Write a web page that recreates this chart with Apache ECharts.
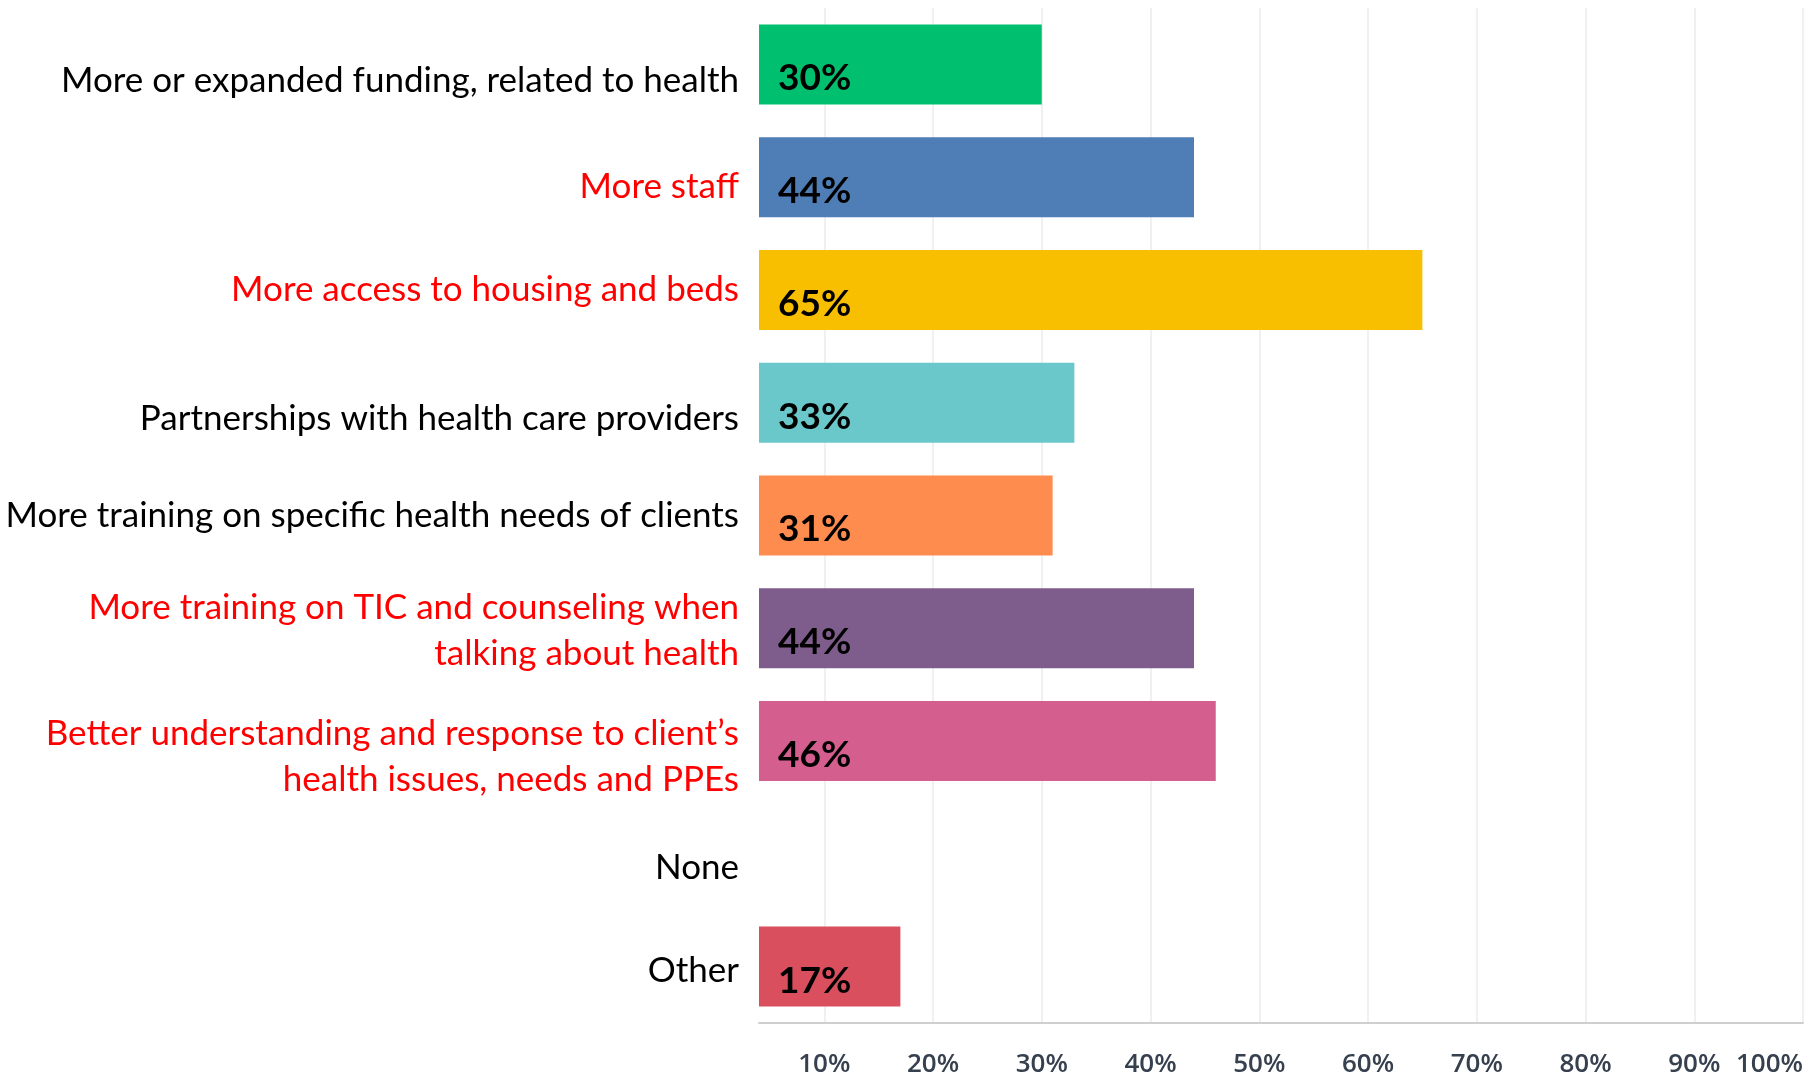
<!DOCTYPE html>
<html>
<head>
<meta charset="utf-8">
<script src="https://cdn.jsdelivr.net/npm/echarts@6/dist/echarts.min.js"></script>
<style>
  html, body { margin: 0; padding: 0; background: #ffffff; }
  #chart { width: 1820px; height: 1078px; }
</style>
</head>
<body>
<div id="chart"></div>
<script>
// ---- data ----
var categories = [
  'More or expanded funding, related to health',
  'More staff',
  'More access to housing and beds',
  'Partnerships with health care providers',
  'More training on specific health needs of clients',
  'More training on TIC and counseling when\ntalking about health',
  'Better understanding and response to client\u2019s\nhealth issues, needs and PPEs',
  'None',
  'Other'
];
var values = [30, 44, 65, 33, 31, 44, 46, 0, 17];
var highlighted = [false, true, true, false, false, true, true, false, false];
var xTickLabels = ['10%', '20%', '30%', '40%', '50%', '60%', '70%', '80%', '90%', '100%'];

// ---- styles ----
var barColors = ['#00BF6F', '#4F7DB5', '#F8BF00', '#6AC7CA', '#FF8C4F', '#7E5C8C', '#D45E8E', '#DA4F5E', '#DA4F5E'];
var labelShift = [16, 10, 0, 16, 0, 2, 16, 14, 4];

var LABEL_FONT = 'Lato';
var LABEL_SIZE = 35;
var LABEL_LH = 46;

var rich = {
  k: { color: '#000000', fontFamily: LABEL_FONT, fontSize: LABEL_SIZE, lineHeight: LABEL_LH },
  rd: { color: '#FF0000', fontFamily: LABEL_FONT, fontSize: LABEL_SIZE, lineHeight: LABEL_LH }
};
labelShift.forEach(function (s) {
  if (s > 0) {
    rich['sp' + s] = { fontSize: 1, lineHeight: s * 2, height: s * 2 };
  }
});

var chart = echarts.init(document.getElementById('chart'));

var option = {
  backgroundColor: '#ffffff',
  animation: false,
  grid: { left: 759, right: 17, top: 8, bottom: 53, containLabel: false },
  xAxis: {
    type: 'value',
    min: 4,
    max: 100,
    splitNumber: 10,
    axisLine: { show: true, lineStyle: { color: '#CFCFCF', width: 2 } },
    axisTick: { show: false },
    splitLine: { show: true, showMinLine: false, lineStyle: { color: '#EBEBEB', width: 1.5 } },
    axisLabel: {
      showMinLabel: false,
      alignMaxLabel: 'right',
      margin: 29,
      fontFamily: 'Open Sans',
      fontWeight: 600,
      fontSize: 26,
      color: '#36404E',
      formatter: function (v) {
        var idx = Math.round(v / 10) - 1;
        return (v % 10 === 0 && xTickLabels[idx]) ? xTickLabels[idx] : '';
      }
    }
  },
  yAxis: {
    type: 'category',
    inverse: true,
    data: categories,
    axisLine: { show: false },
    axisTick: { show: false },
    axisLabel: {
      margin: 20,
      fontFamily: LABEL_FONT,
      fontSize: LABEL_SIZE,
      lineHeight: LABEL_LH,
      align: 'right',
      rich: rich,
      formatter: function (value, index) {
        var st = highlighted[index] ? 'rd' : 'k';
        var lines = value.split('\n').map(function (l) { return '{' + st + '|' + l + '}'; });
        var s = labelShift[index];
        var out = lines.join('\n');
        if (s > 0) out = '{sp' + s + '| }\n' + out;
        return out;
      }
    }
  },
  series: [{
    type: 'bar',
    barWidth: 80,
    data: values.map(function (v, i) {
      return {
        value: v === 0 ? '-' : v,
        itemStyle: { color: barColors[i] }
      };
    }),
    label: {
      show: true,
      position: 'insideLeft',
      distance: 19,
      offset: [0, 14],
      fontFamily: 'Lato',
      fontWeight: 'bold',
      fontSize: 37,
      color: '#000000',
      formatter: function (p) { return p.value + '%'; }
    }
  }]
};
chart.setOption(option);
</script>
</body>
</html>
